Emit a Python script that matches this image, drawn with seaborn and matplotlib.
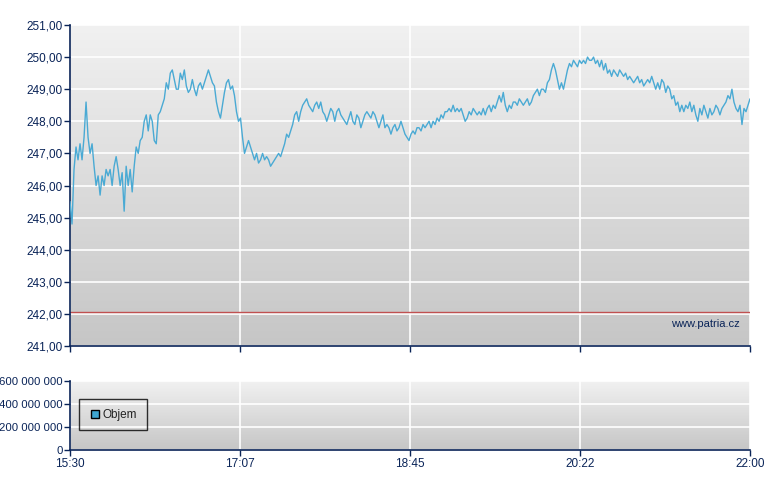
import numpy as np
import pandas as pd
import matplotlib
matplotlib.use("Agg")
import matplotlib.pyplot as plt
import seaborn as sns

price = [245.5,244.8,246.5,247.2,246.8,247.3,246.8,247.5,248.6,247.5,247.0,247.3,246.6,246.0,246.3,245.7,246.3,246.0,246.5,246.3,
246.5,246.0,246.6,246.9,246.5,246.0,246.4,245.2,246.6,246.0,246.5,245.8,246.6,247.2,247.0,247.4,247.5,248.0,248.2,247.7,
248.2,248.0,247.4,247.3,248.2,248.3,248.5,248.7,249.2,249.0,249.5,249.6,249.3,249.0,249.0,249.5,249.3,249.6,249.1,248.9,
249.0,249.3,249.0,248.8,249.1,249.2,249.0,249.2,249.4,249.6,249.4,249.2,249.1,248.6,248.3,248.1,248.5,248.9,249.2,249.3,
249.0,249.1,248.8,248.3,248.0,248.1,247.5,247.0,247.2,247.4,247.2,247.0,246.8,247.0,246.7,246.8,247.0,246.8,246.9,246.8,
246.6,246.7,246.8,246.9,247.0,246.9,247.1,247.3,247.6,247.5,247.7,247.9,248.2,248.3,248.0,248.3,248.5,248.6,248.7,248.5,
248.4,248.3,248.5,248.6,248.4,248.6,248.3,248.2,248.0,248.2,248.4,248.3,248.0,248.3,248.4,248.2,248.1,248.0,247.9,248.1,
248.3,248.0,247.9,248.2,248.1,247.8,248.0,248.2,248.3,248.2,248.1,248.3,248.2,248.0,247.8,248.0,248.2,247.8,247.9,247.8,
247.6,247.8,247.9,247.7,247.8,248.0,247.8,247.6,247.5,247.4,247.6,247.7,247.6,247.8,247.8,247.7,247.9,247.8,247.9,248.0,
247.8,248.0,247.9,248.1,248.0,248.2,248.1,248.3,248.3,248.4,248.3,248.5,248.3,248.4,248.3,248.4,248.2,248.0,248.1,248.3,
248.2,248.4,248.3,248.2,248.3,248.2,248.4,248.2,248.4,248.5,248.3,248.5,248.4,248.6,248.8,248.6,248.9,248.5,248.3,248.5,
248.4,248.6,248.6,248.5,248.7,248.6,248.5,248.6,248.7,248.5,248.6,248.8,248.9,249.0,248.8,249.0,249.0,248.9,249.2,249.3,
249.6,249.8,249.6,249.3,249.0,249.2,249.0,249.3,249.6,249.8,249.7,249.9,249.8,249.7,249.9,249.8,249.9,249.8,250.0,249.9,
249.9,250.0,249.8,249.9,249.7,249.9,249.6,249.8,249.5,249.6,249.4,249.6,249.5,249.4,249.6,249.5,249.4,249.5,249.3,249.4,
249.3,249.2,249.3,249.4,249.2,249.3,249.1,249.2,249.3,249.2,249.4,249.2,249.0,249.2,249.0,249.3,249.2,248.9,249.1,249.0,
248.7,248.8,248.5,248.6,248.3,248.5,248.3,248.5,248.4,248.6,248.3,248.5,248.2,248.0,248.4,248.2,248.5,248.3,248.1,248.4,
248.2,248.3,248.5,248.4,248.2,248.4,248.5,248.6,248.8,248.7,249.0,248.6,248.4,248.3,248.5,247.9,248.4,248.3,248.5,248.7]
ref_price = 242.07
price_ticks = [241, 242, 243, 244, 245, 246, 247, 248, 249, 250, 251]
vol_ticks = [0, 200e6, 400e6, 600e6]
time_labels = ["15:30", "17:07", "18:45", "20:22", "22:00"]

t0 = pd.Timestamp("2024-01-02 15:30")
t1 = pd.Timestamp("2024-01-02 22:00")
times = pd.date_range(t0, t1, periods=len(price))
df = pd.DataFrame({"time": times, "price": price})
tick_times = pd.date_range(t0, t1, periods=len(time_labels))

sns.set_theme(style="white")
plt.rcParams['font.family'] = ['Liberation Sans', 'DejaVu Sans']
navy = "#0a2458"
fig = plt.figure(figsize=(7.8, 4.9), dpi=100)
ax = fig.add_axes([70/780, 1-346/490, 680/780, 321/490])
ax2 = fig.add_axes([70/780, 1-450/490, 680/780, 69/490])

def style(a, ylo, yhi):
    grad = np.linspace(0, 1, 256).reshape(-1, 1)
    a.imshow(grad, aspect="auto", origin="upper",
             cmap=matplotlib.colors.LinearSegmentedColormap.from_list("g", ["#f1f1f1", "#c6c6c6"]),
             extent=[matplotlib.dates.date2num(t0), matplotlib.dates.date2num(t1), ylo, yhi], zorder=0)
    a.set_xlim(t0, t1); a.set_ylim(ylo, yhi)
    a.grid(True, color="white", lw=1.2, zorder=1)
    for s in ["top", "right"]:
        a.spines[s].set_visible(False)
    for s in ["left", "bottom"]:
        a.spines[s].set_color(navy); a.spines[s].set_linewidth(1.2)
    a.tick_params(axis="both", direction="out", length=4, width=1, color=navy, labelcolor=navy, labelsize=8.5,
                  left=True, bottom=True, pad=1.5)
    a.set_xticks(tick_times)
    a.set_xlabel(""); a.set_ylabel("")

style(ax, 241, 251)
sns.lineplot(data=df, x="time", y="price", ax=ax, color="#4aaad4", lw=1, zorder=3)
ax.axhline(ref_price, color="#c05050", lw=1, zorder=2)
ax.set_xlim(t0, t1); ax.set_ylim(241, 251)
ax.set_yticks(price_ticks)
ax.set_yticklabels([f"{v:.2f}".replace(".", ",") for v in price_ticks])
ax.set_xticklabels([])
ax.set_xlabel(""); ax.set_ylabel("")
ax.grid(True, color="white", lw=1.2)
ax.text(0.985, 0.07, "www.patria.cz", transform=ax.transAxes, ha="right", va="center", fontsize=8, color=navy, zorder=4)

style(ax2, 0, 600e6)
ax2.set_yticks(vol_ticks)
ax2.set_yticklabels([f"{int(v):,}".replace(",", " ") for v in vol_ticks])
ax2.tick_params(axis="y", labelsize=8.2, pad=1)
ax2.set_xticklabels(time_labels)
ax2.plot([], [], ls="", marker="s", markersize=6, markerfacecolor="#3fa6d0", markeredgecolor="black", label="Objem")
leg = ax2.legend(loc="lower left", bbox_to_anchor=(0.005, 0.2), frameon=True, fancybox=False, fontsize=8.5,
                 handletextpad=0.2, borderpad=0.8, handlelength=1)
leg.get_frame().set_edgecolor("black"); leg.get_frame().set_facecolor("none")
for t in leg.get_texts():
    t.set_color("#222222")

fig.savefig("out.png", dpi=100)
